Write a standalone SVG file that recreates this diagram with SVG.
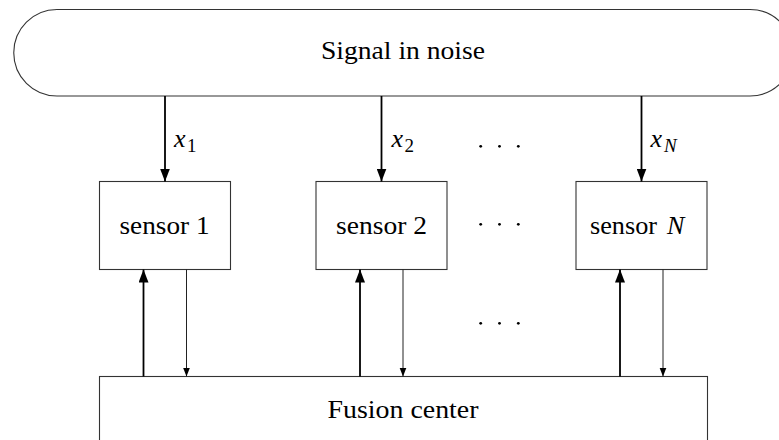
<svg xmlns="http://www.w3.org/2000/svg" width="779" height="440" viewBox="0 0 779 440">
  <style>
    .box { fill: #ffffff; stroke: #333333; stroke-width: 1.1; }
    .lbl { font-family: 'Liberation Serif', serif; font-size: 26px; fill: #000000; }
    .math { font-family: 'Liberation Serif', serif; font-style: italic; font-size: 26px; fill: #000000; }
    .sub { font-family: 'Liberation Serif', serif; font-size: 19px; fill: #000000; }
    .subi { font-family: 'Liberation Serif', serif; font-style: italic; font-size: 19px; fill: #000000; }
    .thick { stroke: #000000; stroke-width: 1.8; fill: none; }
    .thin { stroke: #222222; stroke-width: 1; fill: none; }
    .dot { fill: #000000; }
  </style>
  <defs>
    <marker id="headBig" markerUnits="userSpaceOnUse" markerWidth="14" markerHeight="10" refX="13" refY="5" orient="auto">
      <path d="M0,0 L13,5 L0,10 Z" fill="#000000"/>
    </marker>
    <marker id="headSmall" markerUnits="userSpaceOnUse" markerWidth="10" markerHeight="8" refX="9" refY="3.5" orient="auto">
      <path d="M0,0 L9,3.5 L0,7 Z" fill="#000000"/>
    </marker>
  </defs>
  <rect width="779" height="440" fill="#ffffff"/>

  <g id="signal">
    <path class="box" d="M57,9.5 H750 A43.25,43.25 0 0 1 750,96 H57 A43.25,43.25 0 0 1 57,9.5 Z"/>
    <text class="lbl" x="403" y="59" text-anchor="middle" textLength="164" lengthAdjust="spacingAndGlyphs">Signal in noise</text>
  </g>

  <g id="sensor1">
    <rect class="box" x="99.5" y="181.5" width="131" height="88"/>
    <text class="lbl" x="164.5" y="234" text-anchor="middle" textLength="90" lengthAdjust="spacingAndGlyphs">sensor 1</text>
  </g>
  <g id="sensor2">
    <rect class="box" x="316" y="181.5" width="131" height="88"/>
    <text class="lbl" x="381.5" y="234" text-anchor="middle" textLength="91" lengthAdjust="spacingAndGlyphs">sensor 2</text>
  </g>
  <g id="sensorN">
    <rect class="box" x="576" y="181.5" width="131" height="88"/>
    <text class="lbl" x="590" y="234" textLength="67" lengthAdjust="spacingAndGlyphs">sensor</text>
    <text class="math" x="667" y="234">N</text>
  </g>

  <g id="fusion">
    <rect class="box" x="99.5" y="376.5" width="608" height="90"/>
    <text class="lbl" x="403" y="418" text-anchor="middle" textLength="151" lengthAdjust="spacingAndGlyphs">Fusion center</text>
  </g>

  <g id="connectors">
    <line class="thick" x1="165" y1="96" x2="165" y2="181.5" marker-end="url(#headBig)"/>
    <line class="thick" x1="381.5" y1="96" x2="381.5" y2="181.5" marker-end="url(#headBig)"/>
    <line class="thick" x1="641.5" y1="96" x2="641.5" y2="181.5" marker-end="url(#headBig)"/>

    <line class="thick" x1="143.5" y1="376.5" x2="143.5" y2="269.5" marker-end="url(#headBig)"/>
    <line class="thin" x1="186.5" y1="269.5" x2="186.5" y2="376.5" marker-end="url(#headSmall)"/>
    <line class="thick" x1="360" y1="376.5" x2="360" y2="269.5" marker-end="url(#headBig)"/>
    <line class="thin" x1="403" y1="269.5" x2="403" y2="376.5" marker-end="url(#headSmall)"/>
    <line class="thick" x1="620" y1="376.5" x2="620" y2="269.5" marker-end="url(#headBig)"/>
    <line class="thin" x1="663" y1="269.5" x2="663" y2="376.5" marker-end="url(#headSmall)"/>
  </g>

  <g id="labels">
    <text class="math" x="174" y="147">x</text>
    <text class="sub" x="187" y="152">1</text>
    <text class="math" x="391.5" y="147">x</text>
    <text class="sub" x="404.5" y="152">2</text>
    <text class="math" x="650.5" y="147">x</text>
    <text class="subi" x="664" y="152">N</text>
  </g>

  <g id="dots">
    <circle class="dot" cx="480.7" cy="146.3" r="1.4"/>
    <circle class="dot" cx="499.5" cy="146.3" r="1.4"/>
    <circle class="dot" cx="518.3" cy="146.3" r="1.4"/>
    <circle class="dot" cx="480.7" cy="224.3" r="1.4"/>
    <circle class="dot" cx="499.5" cy="224.3" r="1.4"/>
    <circle class="dot" cx="518.3" cy="224.3" r="1.4"/>
    <circle class="dot" cx="480.7" cy="323.3" r="1.4"/>
    <circle class="dot" cx="499.5" cy="323.3" r="1.4"/>
    <circle class="dot" cx="518.3" cy="323.3" r="1.4"/>
  </g>
</svg>
